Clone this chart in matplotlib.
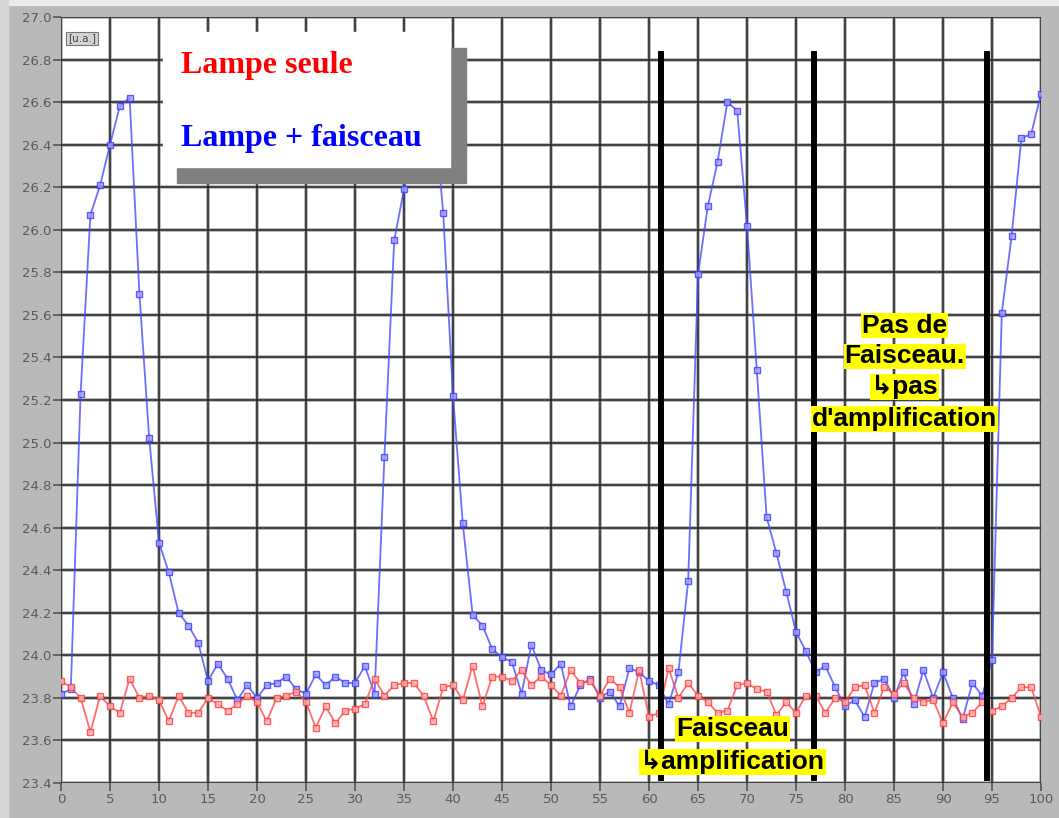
import numpy as np
import matplotlib
matplotlib.use("Agg")
import matplotlib.pyplot as plt
from matplotlib.patches import Rectangle

# sample index 0..100
x = np.arange(101)

lamp_beam = [23.82, 23.84, 25.23, 26.07, 26.21, 26.40, 26.58, 26.62, 25.70, 25.02,
             24.53, 24.39, 24.20, 24.14, 24.06, 23.88, 23.96, 23.89, 23.79, 23.86,
             23.80, 23.86, 23.87, 23.90, 23.84, 23.82, 23.91, 23.86, 23.90, 23.87,
             23.87, 23.95, 23.82, 24.93, 25.95, 26.19, 26.38, 26.55, 26.60, 26.08,
             25.22, 24.62, 24.19, 24.14, 24.03, 23.99, 23.97, 23.82, 24.05, 23.93,
             23.91, 23.96, 23.76, 23.86, 23.89, 23.80, 23.83, 23.76, 23.94, 23.92,
             23.88, 23.86, 23.77, 23.92, 24.35, 25.79, 26.11, 26.32, 26.60, 26.56,
             26.02, 25.34, 24.65, 24.48, 24.30, 24.11, 24.02, 23.92, 23.95, 23.85,
             23.76, 23.79, 23.71, 23.87, 23.89, 23.80, 23.92, 23.77, 23.93, 23.80,
             23.92, 23.80, 23.70, 23.87, 23.81, 23.98, 25.61, 25.97, 26.43, 26.45,
             26.64]

lamp_only = [23.88, 23.85, 23.80, 23.64, 23.81, 23.76, 23.73, 23.89, 23.80, 23.81,
             23.79, 23.69, 23.81, 23.73, 23.73, 23.80, 23.77, 23.74, 23.77, 23.81,
             23.78, 23.69, 23.80, 23.81, 23.83, 23.78, 23.66, 23.76, 23.68, 23.74,
             23.75, 23.77, 23.89, 23.81, 23.86, 23.87, 23.87, 23.81, 23.69, 23.85,
             23.86, 23.79, 23.95, 23.76, 23.90, 23.90, 23.88, 23.93, 23.86, 23.90,
             23.86, 23.81, 23.93, 23.87, 23.88, 23.81, 23.89, 23.85, 23.73, 23.93,
             23.71, 23.73, 23.94, 23.80, 23.87, 23.81, 23.78, 23.73, 23.74, 23.86,
             23.87, 23.84, 23.83, 23.72, 23.78, 23.73, 23.81, 23.81, 23.73, 23.80,
             23.78, 23.85, 23.86, 23.73, 23.85, 23.82, 23.87, 23.80, 23.78, 23.79,
             23.68, 23.78, 23.71, 23.73, 23.78, 23.74, 23.76, 23.80, 23.85, 23.85,
             23.71]

beam_marks = [61.2, 76.8, 94.5]   # black vertical separators
xticks = np.arange(0, 101, 5)
yticks = np.round(np.arange(23.4, 27.01, 0.2), 1)

fig = plt.figure(figsize=(10.59, 8.18), dpi=100, facecolor="#b9b9b9")
# lighter outer strips like the screenshot border
fig.patches.append(Rectangle((0, 1 - 5 / 818), 1, 5 / 818, transform=fig.transFigure,
                             color="#ebebeb", zorder=0))
fig.patches.append(Rectangle((0, 0), 8 / 1059, 1, transform=fig.transFigure,
                             color="#d8d8d8", zorder=0))

ax = fig.add_axes([61 / 1059, 35 / 818, 980 / 1059, 766 / 818])
ax.set_facecolor("white")
ax.set_xlim(0, 100)
ax.set_ylim(23.4, 27.0)
ax.set_xticks(xticks)
ax.set_yticks(yticks)
ax.set_yticklabels([f"{v:.1f}" for v in yticks])
ax.set_axisbelow(True)
ax.grid(True, color="#b0b0b0", lw=2.6)
for v in xticks:
    ax.axvline(v, color="#222222", lw=1.1, zorder=1)
for v in yticks:
    ax.axhline(v, color="#222222", lw=1.1, zorder=1)
for s in ax.spines.values():
    s.set_visible(False)
ax.tick_params(length=6, width=1.2, color="#555555", labelcolor="#5a5a5a",
               labelsize=9.5, pad=1)

ax.plot(x, lamp_beam, color="#4a4aff", lw=1.3, alpha=0.8, marker="s", ms=4.2,
        mfc="#a0a0ff", mec="#3a3aff", mew=1.0, zorder=3)
ax.plot(x, lamp_only, color="#ff4a4a", lw=1.3, alpha=0.8, marker="s", ms=4.2,
        mfc="#ffb4b4", mec="#ff3a3a", mew=1.0, zorder=3)

for xm in beam_marks:
    ax.plot([xm, xm], [23.41, 26.84], color="black", lw=4.3, zorder=5,
            solid_capstyle="butt")

# legend box with drop shadow
ax.add_patch(Rectangle((11.8, 26.22), 29.5, 0.634, color="#808080", zorder=6))
ax.add_patch(Rectangle((10.4, 26.295), 29.3, 0.635, color="white", zorder=7))
ax.text(12.2, 26.77, "Lampe seule", color="#ff0000", fontsize=23, fontweight="bold",
        family="Liberation Serif", va="center", ha="left", zorder=8)
ax.text(12.2, 26.43, "Lampe + faisceau", color="#0000ff", fontsize=23,
        fontweight="bold", family="Liberation Serif", va="center", ha="left", zorder=8)

ax.text(0.7, 26.90, "[u.a.]", fontsize=7.5, color="#444444", va="center", ha="left",
        zorder=8, bbox=dict(facecolor="#d4d4d4", edgecolor="#777777", pad=1.2, lw=0.8))

fam = ["Liberation Sans", "DejaVu Sans"]
hl = dict(facecolor="#ffff00", edgecolor="none", pad=0.6)
for txt, yv in [("Pas de", 25.55), ("Faisceau.", 25.405), ("\u21b3pas", 25.26),
                ("d'amplification", 25.11)]:
    ax.text(86.1, yv, txt, family=fam, fontsize=19, fontweight="bold", ha="center",
            va="center", bbox=hl, zorder=8)
for txt, yv in [("Faisceau", 23.655), ("\u21b3amplification", 23.50)]:
    ax.text(68.5, yv, txt, family=fam, fontsize=19, fontweight="bold", ha="center",
            va="center", bbox=hl, zorder=8)

fig.savefig("out.png", dpi=100, facecolor=fig.get_facecolor())
